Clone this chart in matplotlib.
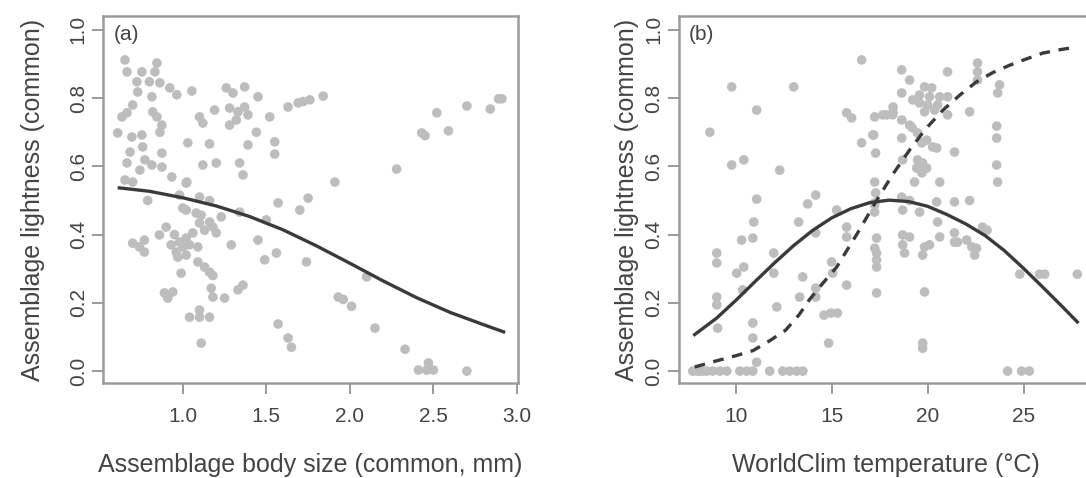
import matplotlib
matplotlib.use("Agg")
import matplotlib.pyplot as plt

plt.rcParams['font.family'] = ['Liberation Sans', 'DejaVu Sans']

# --- Panel (a): body size vs lightness ---
size_x = [0.654, 0.666, 0.755, 0.845, 0.833, 0.725, 0.80, 0.863, 0.922, 0.964,
          0.73, 0.815, 1.054, 0.70, 0.636, 0.666, 0.82, 0.845, 0.875, 0.863,
          0.61, 0.695, 0.755, 0.76, 0.684, 0.666, 0.773, 0.743, 0.875, 0.875,
          0.815, 0.934, 1.024, 0.654, 0.70, 1.03, 1.16, 1.12, 1.20, 1.10,
          1.12, 1.19, 1.26, 1.30, 1.37, 1.28, 1.33, 1.37, 1.39, 1.28,
          1.32, 1.45, 1.52, 1.44, 1.39, 1.55, 1.55, 1.34, 1.36, 1.63,
          1.69, 1.76, 1.84, 1.91, 1.72, 1.02, 0.79, 0.98, 1.10, 1.16,
          1.02, 1.08, 1.23, 1.34, 1.50, 1.57, 1.70, 1.75, 0.90, 0.86,
          0.70, 0.77, 0.77, 0.74, 1.10, 1.18, 1.20, 1.06, 1.02, 0.98,
          0.93, 1.04, 1.09, 0.96, 1.02, 0.97, 1.13, 1.16, 1.29, 1.45,
          1.56, 1.49, 1.74, 1.09, 1.13, 1.16, 1.18, 0.99, 0.89, 0.94,
          0.91, 1.17, 1.18, 1.25, 1.33, 1.36, 1.04, 1.10, 1.10, 1.16,
          1.11, 1.57, 1.63, 1.65, 1.93, 2.52, 2.43, 2.45, 2.59, 2.70,
          2.84, 2.89, 2.91, 2.28, 2.10, 1.96, 2.01, 2.15, 2.33, 2.46,
          2.47, 2.50, 2.41, 2.70, 0.95, 1.00, 1.11, 1.00]
size_y = [0.912, 0.877, 0.877, 0.903, 0.877, 0.848, 0.848, 0.845, 0.83, 0.81,
          0.818, 0.804, 0.821, 0.78, 0.745, 0.757, 0.76, 0.745, 0.721, 0.70,
          0.698, 0.686, 0.692, 0.657, 0.642, 0.61, 0.619, 0.589, 0.639, 0.598,
          0.604, 0.569, 0.554, 0.56, 0.554, 0.669, 0.666, 0.604, 0.61, 0.745,
          0.727, 0.765, 0.83, 0.815, 0.833, 0.771, 0.76, 0.774, 0.751, 0.721,
          0.736, 0.804, 0.745, 0.70, 0.663, 0.672, 0.636, 0.61, 0.575, 0.774,
          0.786, 0.795, 0.806, 0.554, 0.79, 0.551, 0.50, 0.516, 0.51, 0.50,
          0.472, 0.463, 0.452, 0.466, 0.443, 0.493, 0.472, 0.507, 0.422, 0.399,
          0.375, 0.384, 0.349, 0.364, 0.434, 0.422, 0.405, 0.405, 0.39, 0.378,
          0.37, 0.37, 0.364, 0.349, 0.34, 0.334, 0.413, 0.437, 0.37, 0.384,
          0.346, 0.326, 0.32, 0.32, 0.305, 0.29, 0.28, 0.287, 0.229, 0.232,
          0.214, 0.243, 0.217, 0.214, 0.238, 0.252, 0.158, 0.179, 0.158, 0.158,
          0.082, 0.138, 0.097, 0.07, 0.217, 0.757, 0.698, 0.69, 0.704, 0.777,
          0.768, 0.798, 0.798, 0.592, 0.276, 0.21, 0.19, 0.126, 0.064, 0.003,
          0.024, 0.003, 0.003, 0.0, 0.40, 0.364, 0.457, 0.478]

size_fit_x = [0.62, 0.8, 1.0, 1.2, 1.4, 1.6, 1.8, 2.0, 2.2, 2.4, 2.6, 2.8, 2.92]
size_fit_y = [0.537, 0.527, 0.508, 0.484, 0.453, 0.414, 0.367, 0.316, 0.264,
              0.215, 0.172, 0.136, 0.115]

# --- Panel (b): temperature vs lightness ---
temp_x = [16.56, 9.79, 13.02, 11.09, 8.65, 9.79, 10.42, 12.29, 15.78, 16.04,
          16.56, 17.19, 17.29, 17.24, 17.66, 11.09, 17.24, 17.29, 17.24, 14.17,
          13.75, 15.26, 10.94, 13.28, 15.78, 15.78, 14.17, 10.31, 10.89, 17.34,
          17.34, 17.34, 17.34, 17.34, 9.01, 9.01, 11.98, 11.98, 10.05, 10.42,
          13.49, 15.0, 15.05, 15.78, 13.33, 14.17, 14.17, 9.01, 9.01, 10.36,
          12.14, 14.6, 14.95, 15.3, 9.06, 10.89, 10.89, 11.09, 14.84,
          7.76, 8.0, 8.13, 8.3, 8.49, 8.8, 9.17, 9.53, 10.21, 10.57,
          10.89, 11.77, 12.45, 12.81, 13.18, 13.5,
          18.65, 21.04, 22.6, 22.6, 22.6, 23.75, 23.65, 19.06, 18.65, 18.2,
          18.2, 19.84, 20.21, 19.58, 20.1, 20.63, 21.04, 19.58, 20.0, 20.52,
          19.84, 20.36, 21.04, 19.22, 17.86, 18.18, 18.65, 19.06, 19.2, 22.19,
          23.6, 23.6, 17.14, 18.65, 19.48, 19.95, 19.7, 20.26, 20.47, 21.4,
          18.7, 19.48, 19.74, 19.95, 19.43, 19.7, 23.6, 23.65, 19.32, 20.63,
          18.65, 19.06, 20.47, 21.4, 22.19, 18.7, 19.58, 20.52, 22.86, 23.1,
          17.24, 17.24, 18.7, 19.06, 18.7, 18.8, 20.63, 21.4, 21.4, 19.84,
          20.1, 19.74, 22.03, 22.3, 22.45, 22.55, 21.56, 17.24, 24.8, 25.83,
          26.1, 27.8, 19.84, 19.74, 19.74, 24.17, 24.9, 25.3]
temp_y = [0.912, 0.833, 0.833, 0.765, 0.70, 0.604, 0.619, 0.589, 0.757, 0.742,
          0.669, 0.692, 0.639, 0.745, 0.751, 0.504, 0.554, 0.522, 0.493, 0.516,
          0.49, 0.472, 0.437, 0.437, 0.422, 0.393, 0.405, 0.384, 0.39, 0.39,
          0.346, 0.326, 0.305, 0.229, 0.346, 0.317, 0.346, 0.287, 0.287, 0.305,
          0.276, 0.32, 0.287, 0.252, 0.217, 0.243, 0.217, 0.217, 0.194, 0.238,
          0.188, 0.164, 0.17, 0.17, 0.126, 0.141, 0.097, 0.026, 0.082,
          0.0, 0.0, 0.0, 0.0, 0.0, 0.0, 0.0, 0.0, 0.0, 0.0,
          0.0, 0.0, 0.0, 0.0, 0.0, 0.0,
          0.883, 0.877, 0.903, 0.877, 0.853, 0.839, 0.815, 0.853, 0.815, 0.774,
          0.757, 0.833, 0.83, 0.809, 0.804, 0.804, 0.804, 0.786, 0.78, 0.78,
          0.76, 0.765, 0.751, 0.795, 0.751, 0.751, 0.736, 0.721, 0.713, 0.76,
          0.718, 0.683, 0.692, 0.683, 0.698, 0.677, 0.669, 0.657, 0.654, 0.642,
          0.619, 0.619, 0.61, 0.595, 0.595, 0.581, 0.604, 0.554, 0.554, 0.554,
          0.51, 0.50, 0.496, 0.496, 0.50, 0.472, 0.466, 0.437, 0.422, 0.413,
          0.487, 0.466, 0.399, 0.393, 0.37, 0.346, 0.393, 0.405, 0.378, 0.364,
          0.37, 0.34, 0.384, 0.364, 0.34, 0.36, 0.378, 0.36, 0.284, 0.284,
          0.284, 0.284, 0.232, 0.082, 0.067, 0.0, 0.0, 0.0]

temp_fit_x = [7.86, 9, 10, 11, 12, 13, 14, 15, 16, 17, 18, 19, 20, 21, 22, 23,
              24, 25, 26, 27, 27.8]
temp_fit_y = [0.107, 0.155, 0.207, 0.262, 0.316, 0.367, 0.412, 0.449, 0.476,
              0.494, 0.501, 0.497, 0.483, 0.459, 0.431, 0.397, 0.353, 0.301,
              0.246, 0.19, 0.144]

temp_logit_x = [7.86, 9, 10, 10.9, 11.8, 12.6, 13.3, 13.85, 14.5, 15.26, 16.3,
                17.34, 18.2, 19.06, 19.9, 20.8, 21.7, 22.55, 23.4, 24.3, 25.2,
                26, 27, 27.8]
temp_logit_y = [0.012, 0.03, 0.045, 0.06, 0.09, 0.12, 0.165, 0.21, 0.255, 0.305,
                0.40, 0.50, 0.578, 0.648, 0.71, 0.765, 0.81, 0.848, 0.875,
                0.897, 0.916, 0.932, 0.943, 0.95]

y_ticks = [0.0, 0.2, 0.4, 0.6, 0.8, 1.0]

# --- Figure ---
fig = plt.figure(figsize=(10.86, 4.78), dpi=100)
ax1 = fig.add_axes([0.0948, 0.1987, 0.382, 0.768])
ax2 = fig.add_axes([0.625, 0.1987, 0.382, 0.768])

pt_col = "#bdbdbd"
line_col = "#3a3a3a"
frame_col = "#9a9a9a"
text_col = "#444444"

ax1.scatter(size_x, size_y, s=48, color=pt_col, edgecolors="none", zorder=2)
ax1.plot(size_fit_x, size_fit_y, color=line_col, lw=2.4, zorder=3)
ax1.set_xlim(0.522, 3.005)
ax1.set_xticks([1.0, 1.5, 2.0, 2.5, 3.0])
ax1.set_xlabel("Assemblage body size (common, mm)")
ax1.text(0.025, 0.975, "(a)", transform=ax1.transAxes, ha="left", va="top",
         fontsize=15, color=text_col)

ax2.scatter(temp_x, temp_y, s=48, color=pt_col, edgecolors="none", zorder=2)
ax2.plot(temp_fit_x, temp_fit_y, color=line_col, lw=2.4, zorder=3)
ax2.plot(temp_logit_x, temp_logit_y, color=line_col, lw=2.4,
         dashes=(3.2, 2.6), zorder=3)
ax2.set_xlim(7.03, 28.65)
ax2.set_xticks([10, 15, 20, 25])
ax2.set_xlabel("WorldClim temperature (°C)")
ax2.text(0.025, 0.975, "(b)", transform=ax2.transAxes, ha="left", va="top",
         fontsize=15, color=text_col)

for ax, ypad in ((ax1, 17), (ax2, 4)):
    ax.set_ylim(-0.035, 1.041)
    ax.set_yticks(y_ticks)
    ax.set_yticklabels([f"{v:.1f}" for v in y_ticks], rotation=90, va="center")
    ax.set_ylabel("Assemblage lightness (common)", fontsize=18, color=text_col,
                  labelpad=ypad)
    ax.xaxis.label.set_fontsize(18)
    ax.xaxis.label.set_color(text_col)
    ax.xaxis.labelpad = 20
    ax.tick_params(axis="x", pad=9)
    ax.tick_params(axis="y", pad=3)
    ax.tick_params(direction="out", length=8, width=1.4, color=frame_col,
                   labelcolor=text_col, labelsize=15)
    for sp in ax.spines.values():
        sp.set_color(frame_col)
        sp.set_linewidth(1.8)

fig.savefig("out.png", dpi=100)
